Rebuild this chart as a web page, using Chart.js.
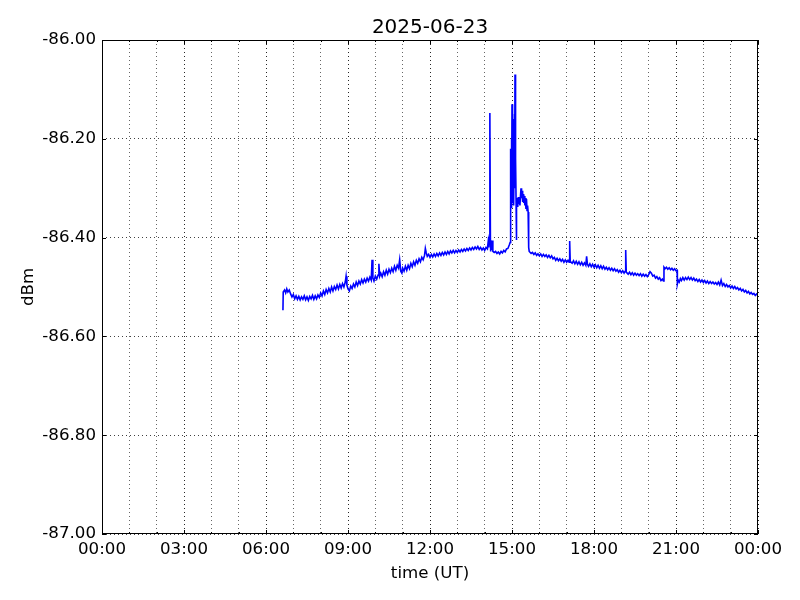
<!DOCTYPE html>
<html>
<head>
<meta charset="utf-8">
<script src="https://cdn.jsdelivr.net/npm/chart.js@4"></script>
<style>
  html, body { margin: 0; padding: 0; background: #fff; }
  #wrap { width: 800px; height: 600px; }
</style>
</head>
<body>
<div id="wrap"><canvas id="sigChart" width="800" height="600"></canvas></div>
<script>
// [hour UT, dBm], split by part of the day
const morning = [
  [6.62, -86.547], [6.63, -86.510], [6.68, -86.506], [6.72, -86.512], [6.76, -86.504], [6.80, -86.510],
  [6.85, -86.506], [6.90, -86.514], [6.95, -86.520], [7.00, -86.515], [7.05, -86.524], [7.10, -86.518],
  [7.15, -86.525], [7.20, -86.519], [7.25, -86.526], [7.30, -86.520], [7.35, -86.525], [7.40, -86.518],
  [7.45, -86.526], [7.50, -86.520], [7.55, -86.527], [7.60, -86.519], [7.65, -86.524], [7.70, -86.517],
  [7.75, -86.525], [7.80, -86.518], [7.85, -86.524], [7.90, -86.516], [7.95, -86.521], [8.00, -86.512],
  [8.05, -86.518], [8.10, -86.508], [8.15, -86.515], [8.20, -86.505], [8.25, -86.512], [8.30, -86.503],
  [8.35, -86.510], [8.40, -86.500], [8.45, -86.508], [8.50, -86.499], [8.55, -86.505], [8.60, -86.496],
  [8.65, -86.504], [8.70, -86.495], [8.75, -86.502], [8.80, -86.493], [8.85, -86.500], [8.90, -86.490],
  [8.93, -86.478], [8.96, -86.496], [9.00, -86.504], [9.05, -86.508], [9.10, -86.498], [9.15, -86.503],
  [9.20, -86.494], [9.25, -86.500], [9.30, -86.490], [9.35, -86.497], [9.40, -86.488], [9.45, -86.494],
  [9.50, -86.485], [9.55, -86.492], [9.60, -86.484], [9.65, -86.490], [9.70, -86.482], [9.75, -86.488],
  [9.80, -86.480], [9.85, -86.486], [9.88, -86.445], [9.91, -86.482], [9.95, -86.488], [10.00, -86.478],
  [10.05, -86.484], [10.10, -86.476], [10.13, -86.453], [10.16, -86.478], [10.20, -86.472], [10.25, -86.479],
  [10.30, -86.469], [10.35, -86.476], [10.40, -86.466], [10.45, -86.474], [10.50, -86.464], [10.55, -86.471],
  [10.60, -86.462], [10.65, -86.469], [10.70, -86.458], [10.75, -86.466], [10.80, -86.456], [10.85, -86.462],
  [10.89, -86.445], [10.93, -86.468], [10.97, -86.472], [11.00, -86.462], [11.05, -86.468], [11.10, -86.458],
  [11.15, -86.466], [11.20, -86.456], [11.25, -86.463], [11.30, -86.452], [11.35, -86.459], [11.40, -86.449],
  [11.45, -86.456], [11.50, -86.446], [11.55, -86.452], [11.60, -86.443], [11.65, -86.449], [11.70, -86.440],
  [11.75, -86.445], [11.80, -86.436], [11.83, -86.422], [11.86, -86.430], [11.90, -86.438], [11.95, -86.434]
];

const midday = [
  [12.00, -86.440], [12.05, -86.434], [12.10, -86.439], [12.15, -86.433], [12.20, -86.438], [12.25, -86.432],
  [12.30, -86.437], [12.35, -86.431], [12.40, -86.436], [12.45, -86.430], [12.50, -86.435], [12.55, -86.429],
  [12.60, -86.434], [12.65, -86.428], [12.70, -86.433], [12.75, -86.427], [12.80, -86.431], [12.85, -86.426],
  [12.90, -86.431], [12.95, -86.426], [13.00, -86.430], [13.05, -86.425], [13.10, -86.429], [13.15, -86.424],
  [13.20, -86.428], [13.25, -86.423], [13.30, -86.427], [13.35, -86.422], [13.40, -86.426], [13.45, -86.421],
  [13.50, -86.425], [13.55, -86.420], [13.60, -86.424], [13.65, -86.419], [13.70, -86.423], [13.75, -86.418],
  [13.80, -86.424], [13.85, -86.420], [13.90, -86.425], [13.95, -86.421], [14.00, -86.426], [14.05, -86.420],
  [14.10, -86.423], [14.13, -86.408], [14.15, -86.420], [14.17, -86.400], [14.19, -86.148], [14.21, -86.405],
  [14.22, -86.428], [14.24, -86.410], [14.26, -86.425], [14.28, -86.406], [14.30, -86.428], [14.35, -86.430],
  [14.40, -86.428], [14.45, -86.432], [14.50, -86.429], [14.55, -86.433], [14.60, -86.428], [14.65, -86.431],
  [14.70, -86.426], [14.75, -86.429], [14.80, -86.423], [14.85, -86.422], [14.90, -86.415], [14.93, -86.410]
];

const burst = [
  [14.94, -86.300], [14.95, -86.360], [14.96, -86.220], [14.97, -86.320], [14.98, -86.200], [14.99, -86.340],
  [15.00, -86.130], [15.01, -86.290], [15.02, -86.200], [15.03, -86.330], [15.04, -86.170], [15.05, -86.310],
  [15.06, -86.160], [15.07, -86.335], [15.08, -86.200], [15.09, -86.150], [15.10, -86.300], [15.11, -86.070],
  [15.12, -86.200], [15.13, -86.300], [15.14, -86.240], [15.15, -86.330], [15.16, -86.405], [15.17, -86.330],
  [15.19, -86.320], [15.21, -86.338], [15.23, -86.318], [15.25, -86.332], [15.27, -86.320], [15.29, -86.335],
  [15.31, -86.316], [15.33, -86.300], [15.35, -86.320], [15.37, -86.305], [15.39, -86.328], [15.41, -86.312],
  [15.43, -86.330], [15.45, -86.316], [15.47, -86.335], [15.49, -86.320], [15.51, -86.342], [15.53, -86.322],
  [15.55, -86.345], [15.57, -86.335], [15.59, -86.348], [15.61, -86.420], [15.63, -86.428]
];

const afternoon = [
  [15.70, -86.432], [15.75, -86.430], [15.80, -86.434], [15.85, -86.431], [15.90, -86.436], [15.95, -86.433],
  [16.00, -86.437], [16.05, -86.433], [16.10, -86.438], [16.15, -86.434], [16.20, -86.438], [16.25, -86.435],
  [16.30, -86.440], [16.35, -86.436], [16.40, -86.441], [16.45, -86.437], [16.50, -86.443], [16.55, -86.440],
  [16.60, -86.446], [16.65, -86.442], [16.70, -86.447], [16.75, -86.443], [16.80, -86.448], [16.85, -86.444],
  [16.90, -86.450], [16.95, -86.445], [17.00, -86.450], [17.05, -86.446], [17.09, -86.450], [17.11, -86.407],
  [17.13, -86.448], [17.20, -86.452], [17.25, -86.447], [17.30, -86.453], [17.35, -86.448], [17.40, -86.454],
  [17.45, -86.449], [17.50, -86.455], [17.55, -86.450], [17.60, -86.456], [17.65, -86.451], [17.70, -86.456],
  [17.73, -86.438], [17.76, -86.454], [17.80, -86.458], [17.85, -86.453], [17.90, -86.459], [17.95, -86.454],
  [18.00, -86.460], [18.05, -86.455], [18.10, -86.461], [18.15, -86.456], [18.20, -86.462], [18.25, -86.457],
  [18.30, -86.463], [18.35, -86.458], [18.40, -86.464], [18.45, -86.460], [18.50, -86.465], [18.55, -86.461],
  [18.60, -86.466], [18.65, -86.462], [18.70, -86.467], [18.75, -86.463], [18.80, -86.468], [18.85, -86.465],
  [18.90, -86.470], [18.95, -86.466], [19.00, -86.471], [19.05, -86.467], [19.10, -86.472], [19.14, -86.468],
  [19.16, -86.425], [19.18, -86.470], [19.25, -86.474], [19.30, -86.470], [19.35, -86.475], [19.40, -86.471],
  [19.45, -86.476], [19.50, -86.472], [19.55, -86.476], [19.60, -86.473], [19.65, -86.477], [19.70, -86.473],
  [19.75, -86.478], [19.80, -86.474], [19.85, -86.478], [19.90, -86.475], [19.95, -86.479]
];

const evening = [
  [20.00, -86.475], [20.05, -86.469], [20.10, -86.472], [20.15, -86.478], [20.20, -86.476], [20.25, -86.482],
  [20.30, -86.479], [20.35, -86.484], [20.40, -86.481], [20.45, -86.487], [20.50, -86.484], [20.54, -86.488],
  [20.56, -86.460], [20.60, -86.463], [20.65, -86.460], [20.70, -86.464], [20.75, -86.461], [20.80, -86.465],
  [20.85, -86.462], [20.90, -86.466], [20.95, -86.463], [21.00, -86.467], [21.04, -86.466], [21.05, -86.494],
  [21.08, -86.486], [21.12, -86.490], [21.16, -86.483], [21.20, -86.487], [21.25, -86.481], [21.30, -86.486],
  [21.35, -86.481], [21.40, -86.485], [21.45, -86.480], [21.50, -86.485], [21.55, -86.481], [21.60, -86.486],
  [21.65, -86.482], [21.70, -86.487], [21.75, -86.484], [21.80, -86.489], [21.85, -86.485], [21.90, -86.490],
  [21.95, -86.486], [22.00, -86.491], [22.05, -86.487], [22.10, -86.492], [22.15, -86.488], [22.20, -86.493],
  [22.25, -86.489], [22.30, -86.493], [22.35, -86.490], [22.40, -86.494], [22.45, -86.491], [22.50, -86.495],
  [22.55, -86.490], [22.60, -86.496], [22.65, -86.486], [22.70, -86.497], [22.75, -86.493], [22.80, -86.499],
  [22.85, -86.495], [22.90, -86.500], [22.95, -86.497], [23.00, -86.502], [23.05, -86.498], [23.10, -86.503],
  [23.15, -86.499], [23.20, -86.504], [23.25, -86.501], [23.30, -86.506], [23.35, -86.503], [23.40, -86.508],
  [23.45, -86.505], [23.50, -86.510], [23.55, -86.507], [23.60, -86.512], [23.65, -86.509], [23.70, -86.514],
  [23.75, -86.511], [23.80, -86.515], [23.85, -86.513], [23.90, -86.517], [23.95, -86.514], [24.00, -86.518]
];

const yTicks = [-87.0, -86.8, -86.6, -86.4, -86.2, -86.0];
const xLabelHours = [0, 3, 6, 9, 12, 15, 18, 21, 24];
const dayLabel = '2025-06-23';

const FONT = "'DejaVu Sans', sans-serif";

const fmtHour = (h) => String(h % 24).padStart(2, '0') + ':00';

const points = [...morning, ...midday, ...burst, ...afternoon, ...evening].map(([x, y]) => ({ x, y }));

// frame, inward ticks and texts, the way matplotlib classic draws them
const framePlugin = {
  id: 'frame',
  afterDraw(chart) {
    const { ctx, chartArea: a, scales } = chart;
    ctx.save();
    ctx.strokeStyle = '#000';
    ctx.lineWidth = 1;
    ctx.setLineDash([]);
    ctx.strokeRect(a.left + 0.5, a.top + 0.5, a.right - a.left - 1, a.bottom - a.top - 1);

    ctx.beginPath();
    yTicks.forEach((v) => {
      const y = Math.round(scales.y.getPixelForValue(v)) + 0.5;
      ctx.moveTo(a.left, y); ctx.lineTo(a.left + 4, y);
      ctx.moveTo(a.right, y); ctx.lineTo(a.right - 4, y);
    });
    for (let h = 0; h <= 24; h++) {
      const x = Math.round(scales.x.getPixelForValue(h)) + 0.5;
      const len = h % 3 === 0 ? 4 : 2;
      ctx.moveTo(x, a.bottom); ctx.lineTo(x, a.bottom - len);
      ctx.moveTo(x, a.top); ctx.lineTo(x, a.top + len);
    }
    ctx.stroke();

    ctx.fillStyle = '#000';
    ctx.textAlign = 'center';
    ctx.textBaseline = 'alphabetic';
    const cx = (a.left + a.right) / 2;
    ctx.font = '20px ' + FONT;
    ctx.fillText(dayLabel, cx, 33);
    ctx.font = '16.67px ' + FONT;
    ctx.fillText('time (UT)', cx, 578);
    ctx.translate(33, (a.top + a.bottom) / 2);
    ctx.rotate(-Math.PI / 2);
    ctx.fillText('dBm', 0, 0);
    ctx.restore();
  }
};

new Chart(document.getElementById('sigChart').getContext('2d'), {
  type: 'line',
  data: {
    datasets: [{
      data: points,
      borderColor: '#0000ff',
      borderWidth: 1.6,
      pointRadius: 0,
      tension: 0,
      fill: false
    }]
  },
  options: {
    responsive: false,
    animation: false,
    layout: { padding: { top: 40, right: 42, left: 0, bottom: 0 } },
    plugins: { legend: { display: false }, tooltip: { enabled: false } },
    scales: {
      x: {
        type: 'linear',
        min: 0,
        max: 24,
        afterFit: (s) => { s.height = 66; },
        afterBuildTicks: (s) => {
          s.ticks = [];
          for (let h = 0; h <= 24; h++) s.ticks.push({ value: h });
        },
        ticks: {
          autoSkip: false,
          maxRotation: 0,
          padding: 6,
          color: '#000',
          font: { family: FONT, size: 16.67 },
          callback: (v) => (xLabelHours.includes(v) ? fmtHour(v) : '')
        },
        grid: {
          drawTicks: false,
          color: (c) => (c.tick && c.tick.value % 3 === 0 ? 'rgba(0,0,0,0.85)' : 'rgba(0,0,0,0.6)'),
          lineWidth: 1
        },
        border: { display: false, dash: [1, 3] }
      },
      y: {
        min: -87,
        max: -86,
        afterFit: (s) => { s.width = 102; },
        afterBuildTicks: (s) => { s.ticks = yTicks.map((v) => ({ value: v })); },
        ticks: {
          padding: 6,
          color: '#000',
          font: { family: FONT, size: 16.67 },
          callback: (v) => v.toFixed(2)
        },
        grid: { drawTicks: false, color: 'rgba(0,0,0,0.75)', lineWidth: 1 },
        border: { display: false, dash: [1, 3] }
      }
    }
  },
  plugins: [framePlugin]
});
</script>
</body>
</html>
